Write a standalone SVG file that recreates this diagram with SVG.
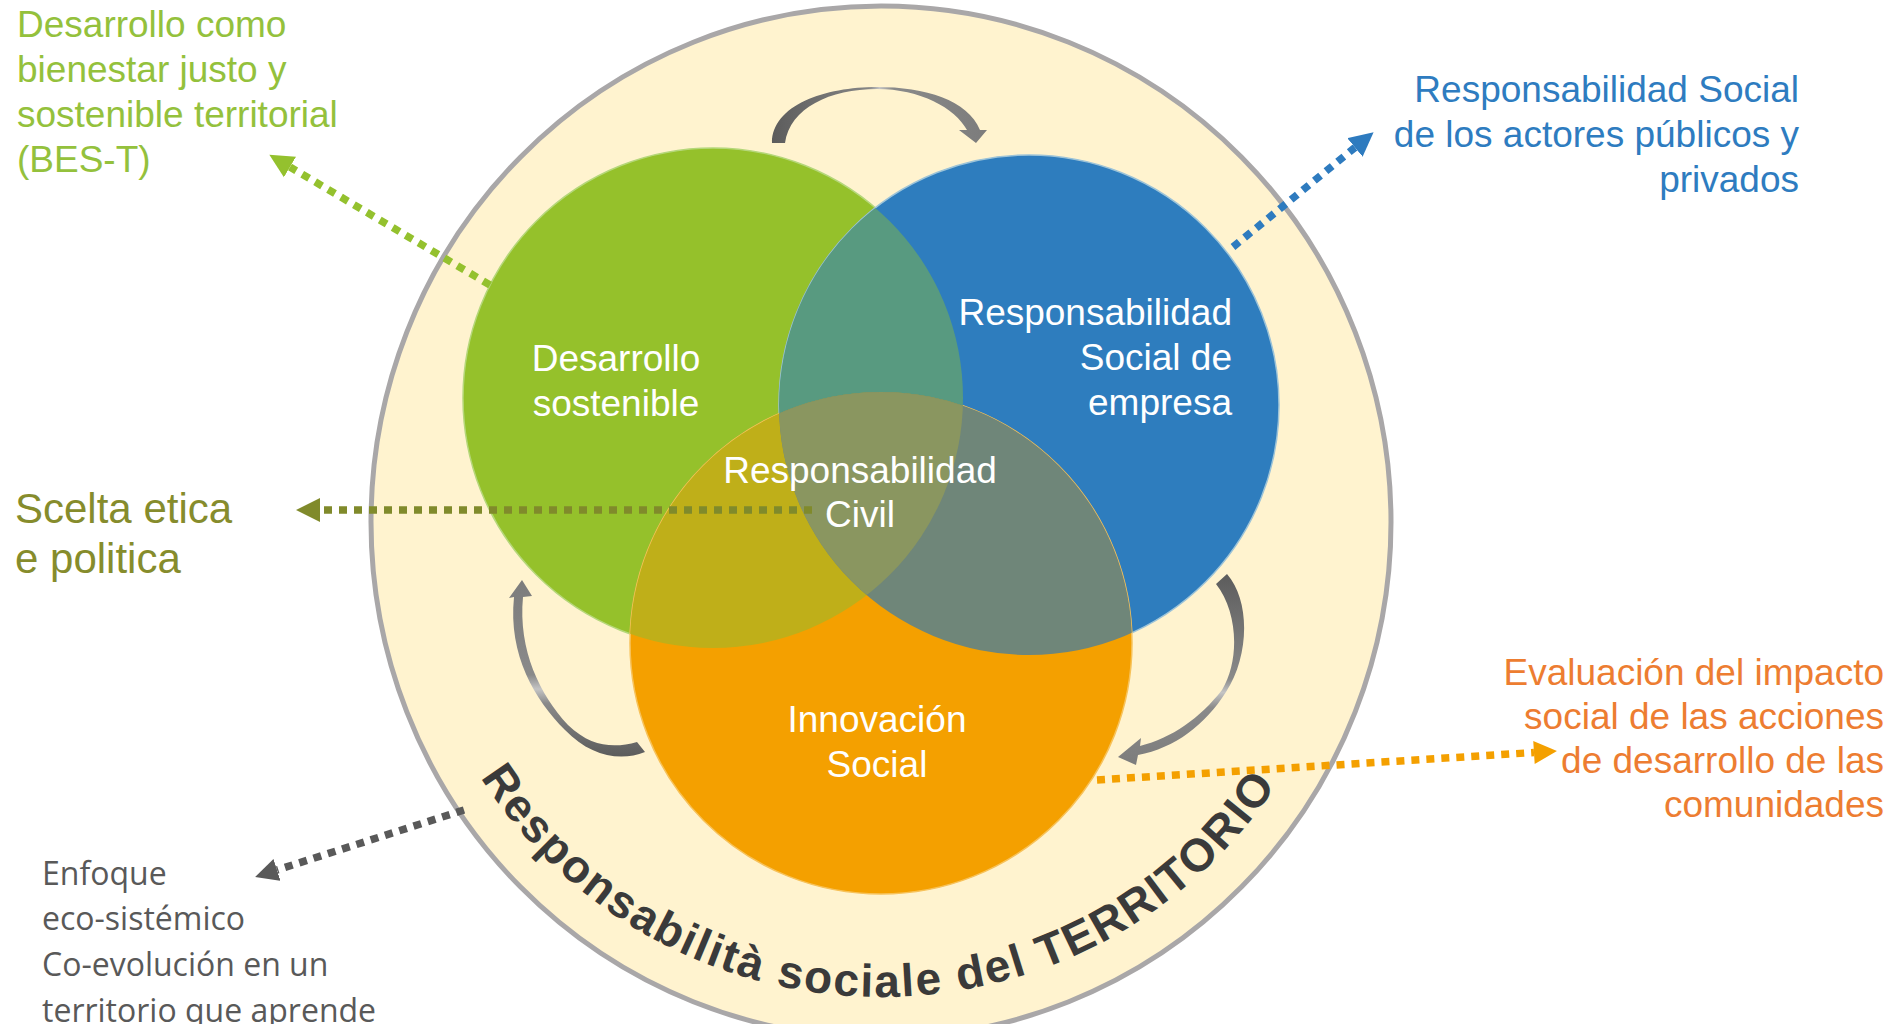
<svg xmlns="http://www.w3.org/2000/svg" width="1901" height="1024" viewBox="0 0 1901 1024">
<style>
.lbl{font-family:"Liberation Sans",Arial,sans-serif;font-size:37px;}
.in{font-family:"Liberation Sans",Arial,sans-serif;font-size:37px;fill:#ffffff;}
.conn{fill:none;stroke-width:7.5;stroke-dasharray:8 7;}
</style>
<defs>
<clipPath id="cg"><circle cx="713" cy="398" r="250"/></clipPath>
<clipPath id="cb"><circle cx="1029" cy="405" r="250"/></clipPath>
<marker id="ag" viewBox="0 0 24 24" refX="0" refY="12" markerWidth="24" markerHeight="25" markerUnits="userSpaceOnUse" orient="auto"><path d="M0,0 L24,12 L0,24 z" fill="#94C12E"/></marker>
<marker id="ab" viewBox="0 0 24 24" refX="0" refY="12" markerWidth="24" markerHeight="24" markerUnits="userSpaceOnUse" orient="auto"><path d="M0,0 L24,12 L0,24 z" fill="#2E7BBF"/></marker>
<marker id="ao" viewBox="0 0 24 24" refX="0" refY="12" markerWidth="24" markerHeight="26" markerUnits="userSpaceOnUse" orient="auto"><path d="M0,0 L24,12 L0,24 z" fill="#808A2B"/></marker>
<marker id="ar" viewBox="0 0 24 24" refX="0" refY="12" markerWidth="24" markerHeight="23" markerUnits="userSpaceOnUse" orient="auto"><path d="M0,0 L24,12 L0,24 z" fill="#F4A000"/></marker>
<marker id="ay" viewBox="0 0 24 24" refX="0" refY="12" markerWidth="23" markerHeight="23" markerUnits="userSpaceOnUse" orient="auto"><path d="M0,0 L24,12 L0,24 z" fill="#595959"/></marker>
<linearGradient id="gTop" gradientUnits="userSpaceOnUse" x1="772" y1="0" x2="987" y2="0">
<stop offset="0" stop-color="#5c5c5c"/><stop offset="0.45" stop-color="#858585"/><stop offset="0.5" stop-color="#c4c4c4"/><stop offset="0.56" stop-color="#8a8a8a"/><stop offset="1" stop-color="#7c7c7c"/>
</linearGradient>
<linearGradient id="gRight" gradientUnits="userSpaceOnUse" x1="0" y1="574" x2="0" y2="765">
<stop offset="0" stop-color="#5c5c5c"/><stop offset="0.55" stop-color="#8a8a8a"/><stop offset="0.62" stop-color="#c4c4c4"/><stop offset="0.7" stop-color="#8a8a8a"/><stop offset="1" stop-color="#7c7c7c"/>
</linearGradient>
<linearGradient id="gLeft" gradientUnits="userSpaceOnUse" x1="0" y1="756" x2="0" y2="580">
<stop offset="0" stop-color="#5c5c5c"/><stop offset="0.3" stop-color="#8a8a8a"/><stop offset="0.38" stop-color="#c4c4c4"/><stop offset="0.46" stop-color="#8a8a8a"/><stop offset="1" stop-color="#7c7c7c"/>
</linearGradient>
<path id="arcText" d="M 406 522 A 475 475 0 0 0 1356 522"/>
</defs>

<g id="territorio">
<ellipse cx="881" cy="522" rx="510" ry="516" fill="#FFF3CF" stroke="#A9A7A8" stroke-width="5"/>
<text font-family="'Liberation Sans',Arial,sans-serif" font-size="46" font-weight="bold" fill="#3A3A3A" letter-spacing="2"><textPath href="#arcText" startOffset="742" text-anchor="middle">Responsabilità sociale del TERRITORIO</textPath></text>
</g>

<g id="cycle-arrows">
<path d="M 772 143 C 772 105 825 87 877 87 C 925 87 968 100 980 130 L 987 130 L 976 143 L 959 130 L 967 130 C 955 108 920 89 877 89 C 830 89 790 108 785 143 Z" fill="url(#gTop)"/>
<path d="M 1227 574 C 1250 600 1250 655 1226 692 C 1205 725 1175 748 1138 755 L 1136 765 L 1118 757 L 1141 738 L 1140 746 C 1172 738 1200 718 1222 690 C 1240 660 1238 612 1216 584 Z" fill="url(#gRight)"/>
<path d="M 645 752 C 620 762 590 756 565 730 C 535 700 508 655 514 597 L 509 598 L 522 580 L 532 596 L 523 597 C 518 650 540 695 568 725 C 592 748 615 748 637 742 Z" fill="url(#gLeft)"/>
</g>

<g id="circles">
<g id="node-desarrollo"><circle cx="713" cy="398" r="250" fill="#95C12B" stroke="#B5D77A" stroke-width="1.5"/></g>
<g id="node-rse"><circle cx="1029" cy="405" r="250" fill="#2E7DBE" stroke="#9CC3D8" stroke-width="1.5"/></g>
<g id="node-innovacion"><circle cx="881" cy="643" r="251" fill="#F4A000" stroke="#F7C25A" stroke-width="1.5"/></g>
<circle cx="1029" cy="405" r="250" fill="#589A80" clip-path="url(#cg)"/>
<circle cx="881" cy="643" r="251" fill="#BFAF19" clip-path="url(#cg)"/>
<circle cx="881" cy="643" r="251" fill="#6F8679" clip-path="url(#cb)"/>
<g id="node-civil" clip-path="url(#cg)"><circle cx="881" cy="643" r="251" fill="#8A9660" clip-path="url(#cb)"/></g>
</g>

<g id="connectors">
<path class="conn" stroke="#94C12E" d="M 490 285 L 290 167" marker-end="url(#ag)"/>
<path class="conn" stroke="#2E7BBF" d="M 1233 247 L 1355 147.5" marker-end="url(#ab)"/>
<path class="conn" stroke="#808A2B" d="M 812 510 L 320 510" marker-end="url(#ao)"/>
<path class="conn" stroke="#F4A000" d="M 1097 780 L 1534 752.5" marker-end="url(#ar)"/>
<path class="conn" stroke="#595959" d="M 464 810 L 277 870" marker-end="url(#ay)"/>
</g>

<g id="circle-labels">
<text class="in" text-anchor="middle"><tspan x="616" y="371">Desarrollo</tspan><tspan x="616" y="416">sostenible</tspan></text>
<text class="in" text-anchor="end"><tspan x="1232" y="325">Responsabilidad</tspan><tspan x="1232" y="370">Social de</tspan><tspan x="1232" y="415">empresa</tspan></text>
<text class="in" text-anchor="middle"><tspan x="860" y="483">Responsabilidad</tspan><tspan x="860" y="527">Civil</tspan></text>
<text class="in" text-anchor="middle"><tspan x="877" y="732">Innovación</tspan><tspan x="877" y="777">Social</tspan></text>
</g>

<g id="label-bes">
<text class="lbl" fill="#94C13C"><tspan x="17" y="37">Desarrollo como</tspan><tspan x="17" y="82">bienestar justo y</tspan><tspan x="17" y="127">sostenible territorial</tspan><tspan x="17" y="172">(BES-T)</tspan></text>
</g>
<g id="label-actores">
<text class="lbl" fill="#2E7CC0" text-anchor="end"><tspan x="1799" y="102">Responsabilidad Social</tspan><tspan x="1799" y="147">de los actores públicos y</tspan><tspan x="1799" y="192">privados</tspan></text>
</g>
<g id="label-scelta">
<text font-family="'Liberation Sans',Arial,sans-serif" font-size="42" fill="#868C2C"><tspan x="15" y="523">Scelta etica</tspan><tspan x="15" y="573">e politica</tspan></text>
</g>
<g id="label-evaluacion">
<text class="lbl" fill="#ED7D31" text-anchor="end"><tspan x="1884" y="685">Evaluación del impacto</tspan><tspan x="1884" y="729">social de las acciones</tspan><tspan x="1884" y="773">de desarrollo de las</tspan><tspan x="1884" y="817">comunidades</tspan></text>
</g>
<g id="label-enfoque">
<text font-family="'Open Sans','Liberation Sans',sans-serif" font-size="32" fill="#595959"><tspan x="42" y="885">Enfoque</tspan><tspan x="42" y="930">eco-sistémico</tspan><tspan x="42" y="976">Co-evolución en un</tspan><tspan x="42" y="1022">territorio que aprende</tspan></text>
</g>
</svg>
